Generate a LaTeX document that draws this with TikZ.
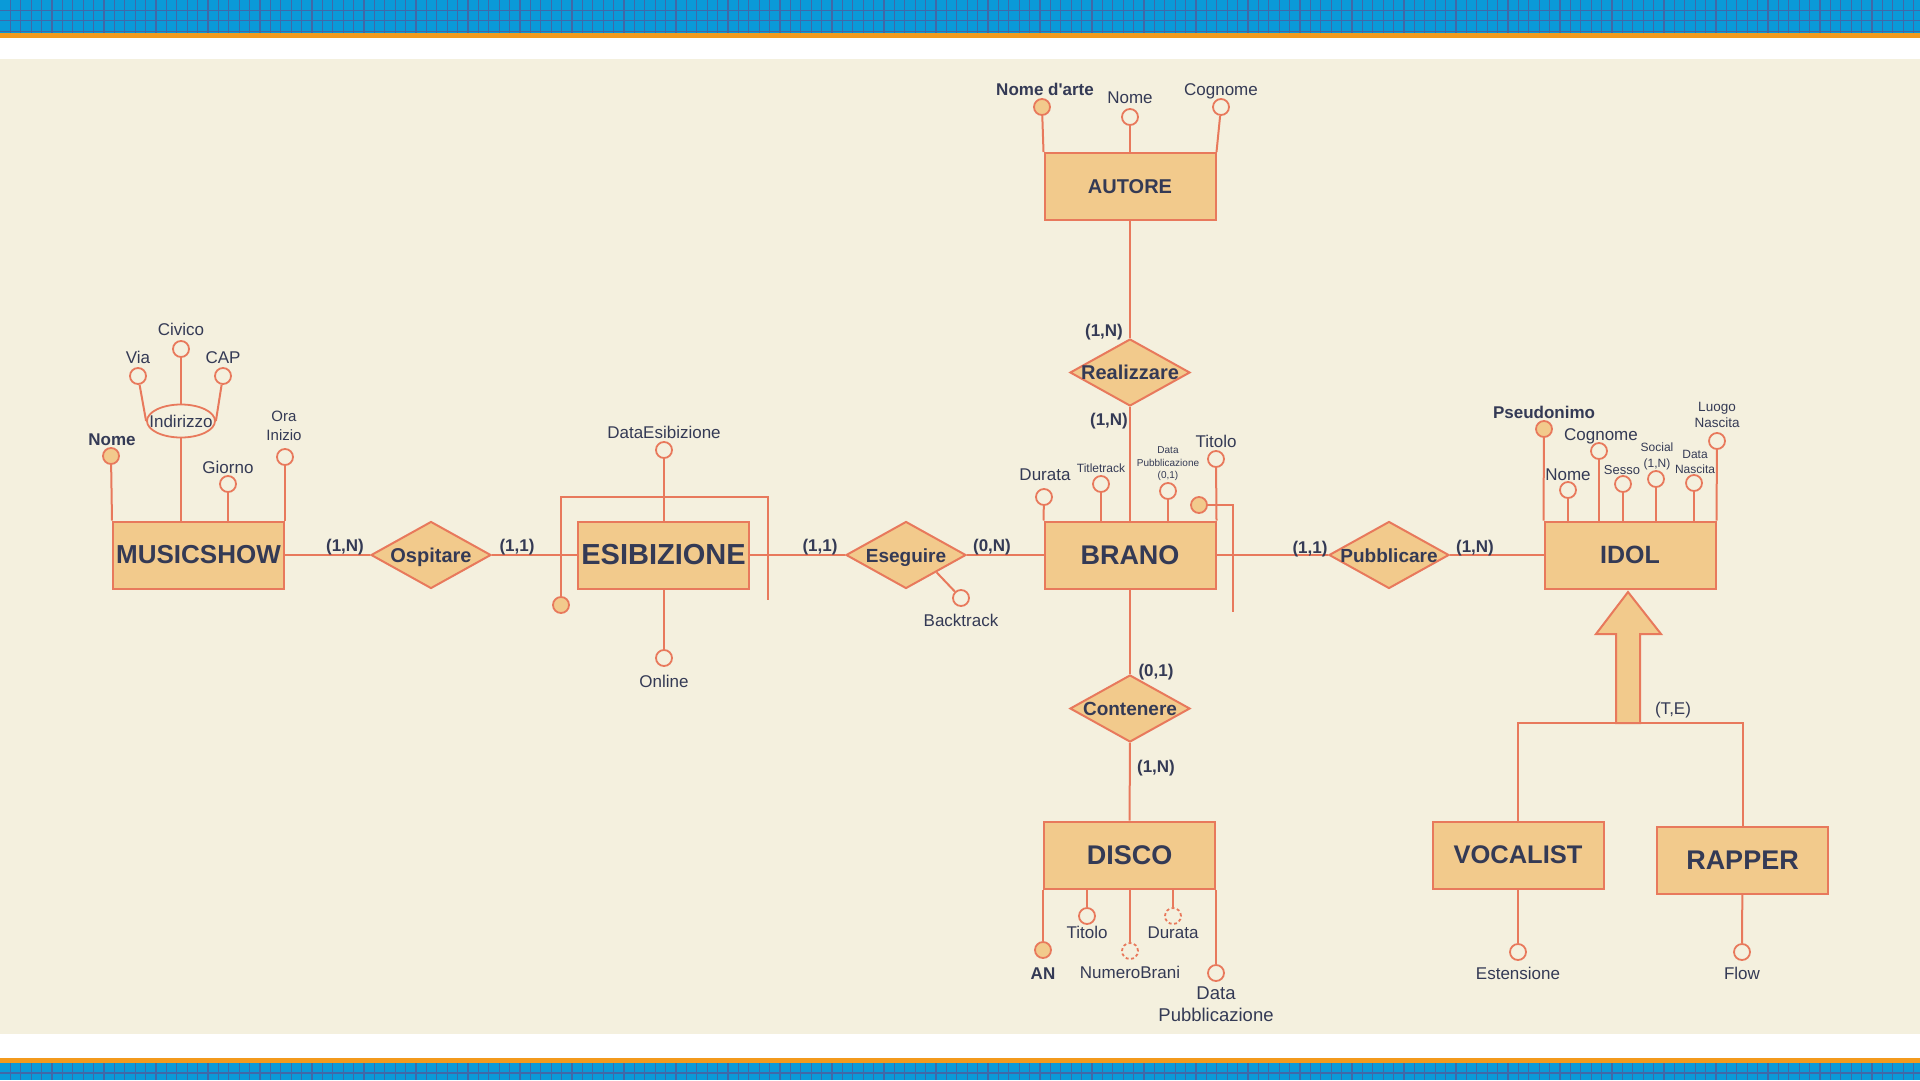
\documentclass[tikz,border=0pt]{standalone}
\usepackage{fontspec}
\setmainfont{Liberation Sans}
\usetikzlibrary{shapes.geometric}

\definecolor{lineC}{HTML}{E8795C}
\definecolor{fillC}{HTML}{F2CA8C}
\definecolor{bgC}{HTML}{F4F0DE}
\definecolor{textC}{HTML}{343A55}
\definecolor{bandBlue}{HTML}{0A9AD8}
\definecolor{bandGrid}{HTML}{4068A8}
\definecolor{bandOrange}{HTML}{F39A1C}

\newcommand{\fsz}[1]{\fontsize{#1}{#1}\selectfont}

\tikzset{
  entity/.style={draw=lineC, fill=fillC, line width=2pt, minimum width=171pt, minimum height=67pt, inner sep=0pt, text=textC},
  rel/.style={diamond, draw=lineC, fill=fillC, line width=2pt, minimum width=120pt, minimum height=67pt, inner sep=0pt, text=textC, text height=14pt, text depth=0pt},
  attr/.style={circle, draw=lineC, fill=bgC, line width=1.8pt, minimum size=16pt, inner sep=0pt},
  keyattr/.style={attr, fill=fillC},
  optattr/.style={attr, dash pattern=on 3pt off 2.5pt},
  conn/.style={draw=lineC, line width=2pt},
  lbl/.style={inner sep=0pt, text=textC, text height=12.2pt, text depth=0pt, font=\fsz{17}},
  mlbl/.style={inner sep=0pt, text=textC, align=center},
  card/.style={lbl, font=\bfseries\fsz{17}},
  bandgrid/.style={draw=bandGrid, line width=1.2pt}
}

\begin{document}
\begin{tikzpicture}[x=1pt, y=-1pt]
\useasboundingbox (0,0) rectangle (1920,1080);
% bands
\fill[white] (0,0) rectangle (1920,1080);
\fill[bgC] (0,59) rectangle (1920,1034);
\fill[bandBlue] (0,0) rectangle (1920,33);
\fill[bandBlue] (0,1063) rectangle (1920,1080);
\foreach \gx in {10.4,20.8,...,1920} \draw[bandgrid] (\gx,0) -- (\gx,33) (\gx,1063) -- (\gx,1080);
\foreach \gy in {10.4,20.8,31.2,1073} \draw[bandgrid] (0,\gy) -- (1920,\gy);
\fill[bandOrange] (0,33) rectangle (1920,38);
\fill[bandOrange] (0,1058) rectangle (1920,1063);

% entities
\node[entity, font=\bfseries\fsz{20}] (autore) at (1130,186.5) {AUTORE};
\node[entity, font=\bfseries\fsz{26}] (musicshow) at (198.5,555) {MUSICSHOW};
\node[entity, font=\bfseries\fsz{29}] (esibizione) at (663.5,555) {ESIBIZIONE};
\node[entity, font=\bfseries\fsz{27}] (brano) at (1130,555) {BRANO};
\node[entity, font=\bfseries\fsz{25}] (idol) at (1630,555) {IDOL};
\node[entity, font=\bfseries\fsz{27}] (disco) at (1129.5,855) {DISCO};
\node[entity, font=\bfseries\fsz{25.5}] (vocalist) at (1518,855) {VOCALIST};
\node[entity, font=\bfseries\fsz{27}] (rapper) at (1742.5,860.5) {RAPPER};

% relationships
\node[rel, font=\bfseries\fsz{20}] (ospitare) at (431,555) {\makebox[0pt]{Ospitare}};
\node[rel, font=\bfseries\fsz{19}] (eseguire) at (906,555) {\makebox[0pt]{Eseguire}};
\node[rel, font=\bfseries\fsz{20}] (realizzare) at (1130,372.5) {\makebox[0pt]{Realizzare}};
\node[rel, font=\bfseries\fsz{19}] (pubblicare) at (1389,555) {\makebox[0pt]{Pubblicare}};
\node[rel, font=\bfseries\fsz{19}] (contenere) at (1130,708.5) {\makebox[0pt]{Contenere}};

\draw[conn] (musicshow) -- (ospitare);
\draw[conn] (ospitare) -- (esibizione);
\draw[conn] (esibizione) -- (eseguire);
\draw[conn] (eseguire) -- (brano);
\draw[conn] (brano) -- (pubblicare);
\draw[conn] (pubblicare) -- (idol);
\draw[conn] (autore) -- (realizzare);
\draw[conn] (realizzare) -- (brano);
\draw[conn] (brano) -- (contenere);
\draw[conn] (contenere) -- (disco);

% cardinalities
\node[card] (c1) at (345,545) {(1,N)};
\node[card] (c2) at (517,545) {(1,1)};
\node[card] (c3) at (820,545) {(1,1)};
\node[card] (c4) at (992,545) {(0,N)};
\node[card] (c5) at (1104,330) {(1,N)};
\node[card] (c6) at (1109,419) {(1,N)};
\node[card] (c7) at (1310,547) {(1,1)};
\node[card] (c8) at (1475,546) {(1,N)};
\node[card] (c9) at (1156,670) {(0,1)};
\node[card] (c10) at (1156,766) {(1,N)};

% AUTORE
\begin{scope}
  \node[keyattr] (autArte) at (1042,107) {};
  \node[attr] (autNome) at (1130,117) {};
  \node[attr] (autCogn) at (1221,107) {};
  \draw[conn] (autArte) -- (autore.north west);
  \draw[conn] (autNome) -- (autNome |- autore.north);
  \draw[conn] (autCogn) -- (autore.north east);
  \node[lbl, font=\bfseries\fsz{17}] (autArteL) at (1045,89) {Nome d\textquotesingle arte};
  \node[lbl] (autNomeL) at (1130,97) {Nome};
  \node[lbl] (autCognL) at (1221,89) {Cognome};
\end{scope}

% MUSICSHOW
\begin{scope}
  \node[keyattr] (musNome) at (111,456) {};
  \node[ellipse, draw=lineC, fill=bgC, line width=1.8pt, minimum width=68pt, minimum height=33pt, inner sep=0pt, text=textC, text height=12.2pt, text depth=0pt, font=\fsz{17}] (musInd) at (181,421) {\makebox[0pt]{Indirizzo}};
  \node[attr] (musVia) at (138,376) {};
  \node[attr] (musCiv) at (181,349) {};
  \node[attr] (musCap) at (223,376) {};
  \node[attr] (musGio) at (228,484) {};
  \node[attr] (musOra) at (285,457) {};
  \draw[conn] (musNome) -- (musicshow.north west);
  \draw[conn] (musInd) -- (musInd |- musicshow.north);
  \draw[conn] (musVia) -- (musInd.west);
  \draw[conn] (musCiv) -- (musInd);
  \draw[conn] (musCap) -- (musInd.east);
  \draw[conn] (musGio) -- (musGio |- musicshow.north);
  \draw[conn] (musOra) -- (musicshow.north east);
  \node[lbl, font=\bfseries\fsz{17}] (musNomeL) at (112,439) {Nome};
  \node[lbl] (musViaL) at (138,357) {Via};
  \node[lbl] (musCivL) at (181,329) {Civico};
  \node[lbl] (musCapL) at (223,357) {CAP};
  \node[lbl] (musGioL) at (228,467) {Giorno};
  \node[mlbl, font=\fontsize{15}{19}\selectfont] (musOraL) at (284,426) {Ora\\Inizio};
\end{scope}

% ESIBIZIONE
\begin{scope}
  \node[attr] (esiData) at (664,450) {};
  \node[attr] (esiOnl) at (664,658) {};
  \node[keyattr] (esiKey) at (561,605) {};
  \coordinate (esiBrTL) at (561,497);
  \coordinate (esiBrTR) at (768,497);
  \coordinate (esiBrEnd) at (768,600);
  \draw[conn] (esiData) -- (esiData |- esibizione.north);
  \draw[conn] (esiOnl) -- (esiOnl |- esibizione.south);
  \draw[conn] (esiKey) -- (esiBrTL) -- (esiBrTR) -- (esiBrEnd);
  \node[lbl] (esiDataL) at (664,432) {DataEsibizione};
  \node[lbl] (esiOnlL) at (664,681) {Online};
\end{scope}

% Eseguire
\node[attr] (eseBack) at (961,598) {};
\draw[conn] (eseguire.south east) -- (eseBack);
\node[lbl] (eseBackL) at (961,620) {Backtrack};

% BRANO
\begin{scope}
  \node[attr] (braDur) at (1044,497) {};
  \node[attr] (braTit) at (1101,484) {};
  \node[attr] (braPub) at (1168,491) {};
  \node[attr] (braTitolo) at (1216,459) {};
  \node[keyattr] (braKey) at (1199,505) {};
  \coordinate (braIdR) at (1233,505);
  \coordinate (braIdEnd) at (1233,612);
  \draw[conn] (braDur) -- (brano.north west);
  \draw[conn] (braTit) -- (braTit |- brano.north);
  \draw[conn] (braPub) -- (braPub |- brano.north);
  \draw[conn] (braTitolo) -- (brano.north east);
  \draw[conn] (braKey) -- (braIdR) -- (braIdEnd);
  \node[lbl] (braDurL) at (1045,474) {Durata};
  \node[lbl, font=\fsz{12}, text height=8.6pt] (braTitL) at (1101,468) {Titletrack};
  \node[mlbl, font=\fontsize{10}{12.5}\selectfont] (braPubL) at (1168,464) {Data\\Pubblicazione\\(0,1)};
  \node[lbl] (braTitoloL) at (1216,441) {Titolo};
\end{scope}

% IDOL
\begin{scope}
  \node[keyattr] (idoPse) at (1544,429) {};
  \node[attr] (idoNome) at (1568,490) {};
  \node[attr] (idoCogn) at (1599,451) {};
  \node[attr] (idoSes) at (1623,484) {};
  \node[attr] (idoSoc) at (1656,479) {};
  \node[attr] (idoNasc) at (1694,483) {};
  \node[attr] (idoLuogo) at (1717,441) {};
  \draw[conn] (idoPse) -- (idol.north west);
  \draw[conn] (idoNome) -- (idoNome |- idol.north);
  \draw[conn] (idoCogn) -- (idoCogn |- idol.north);
  \draw[conn] (idoSes) -- (idoSes |- idol.north);
  \draw[conn] (idoSoc) -- (idoSoc |- idol.north);
  \draw[conn] (idoNasc) -- (idoNasc |- idol.north);
  \draw[conn] (idoLuogo) -- (idol.north east);
  \node[lbl, font=\bfseries\fsz{17}] (idoPseL) at (1544,412) {Pseudonimo};
  \node[lbl] (idoNomeL) at (1568,474) {Nome};
  \node[lbl] (idoCognL) at (1601,434) {Cognome};
  \node[lbl, font=\fsz{13}, text height=9.4pt] (idoSesL) at (1622,470) {Sesso};
  \node[mlbl, font=\fontsize{12}{16}\selectfont] (idoSocL) at (1657,456) {Social\\(1,N)};
  \node[mlbl, font=\fontsize{12}{15}\selectfont] (idoNascL) at (1695,462) {Data\\Nascita};
  \node[mlbl, font=\fontsize{13.5}{16}\selectfont] (idoLuogoL) at (1717,415) {Luogo\\Nascita};
\end{scope}

% generalizzazione
\draw[draw=lineC, fill=fillC, line width=2pt, line join=miter] (1628,592) -- (1661,634) -- (1640,634) -- (1640,723) -- (1616,723) -- (1616,634) -- (1596,634) -- cycle;
\coordinate (isaBase) at (1628,723);
\draw[conn] (vocalist.north) -- (vocalist.north |- isaBase) -- (rapper.north |- isaBase) -- (rapper.north);
\node[lbl] (isaL) at (1673,708) {(T,E)};

% DISCO
\begin{scope}
  \node[keyattr] (disAN) at (1043,950) {};
  \node[attr] (disTit) at (1087,916) {};
  \node[optattr] (disNum) at (1130,951) {};
  \node[optattr] (disDur) at (1173,916) {};
  \node[attr] (disPub) at (1216,973) {};
  \draw[conn] (disAN) -- (disco.south west);
  \draw[conn] (disTit) -- (disTit |- disco.south);
  \draw[conn] (disNum) -- (disNum |- disco.south);
  \draw[conn] (disDur) -- (disDur |- disco.south);
  \draw[conn] (disPub) -- (disco.south east);
  \node[lbl, font=\bfseries\fsz{17}] (disANL) at (1043,973) {AN};
  \node[lbl] (disTitL) at (1087,932) {Titolo};
  \node[lbl] (disNumL) at (1130,972) {NumeroBrani};
  \node[lbl] (disDurL) at (1173,932) {Durata};
  \node[mlbl, font=\fontsize{18.5}{22}\selectfont] (disPubL) at (1216,1004) {Data\\Pubblicazione};
\end{scope}

% VOCALIST, RAPPER
\node[attr] (vocEst) at (1518,952) {};
\node[attr] (rapFlow) at (1742,952) {};
\draw[conn] (vocEst) -- (vocalist);
\draw[conn] (rapFlow) -- (rapper);
\node[lbl] (vocEstL) at (1518,973) {Estensione};
\node[lbl] (rapFlowL) at (1742,973) {Flow};
\end{tikzpicture}
\end{document}
